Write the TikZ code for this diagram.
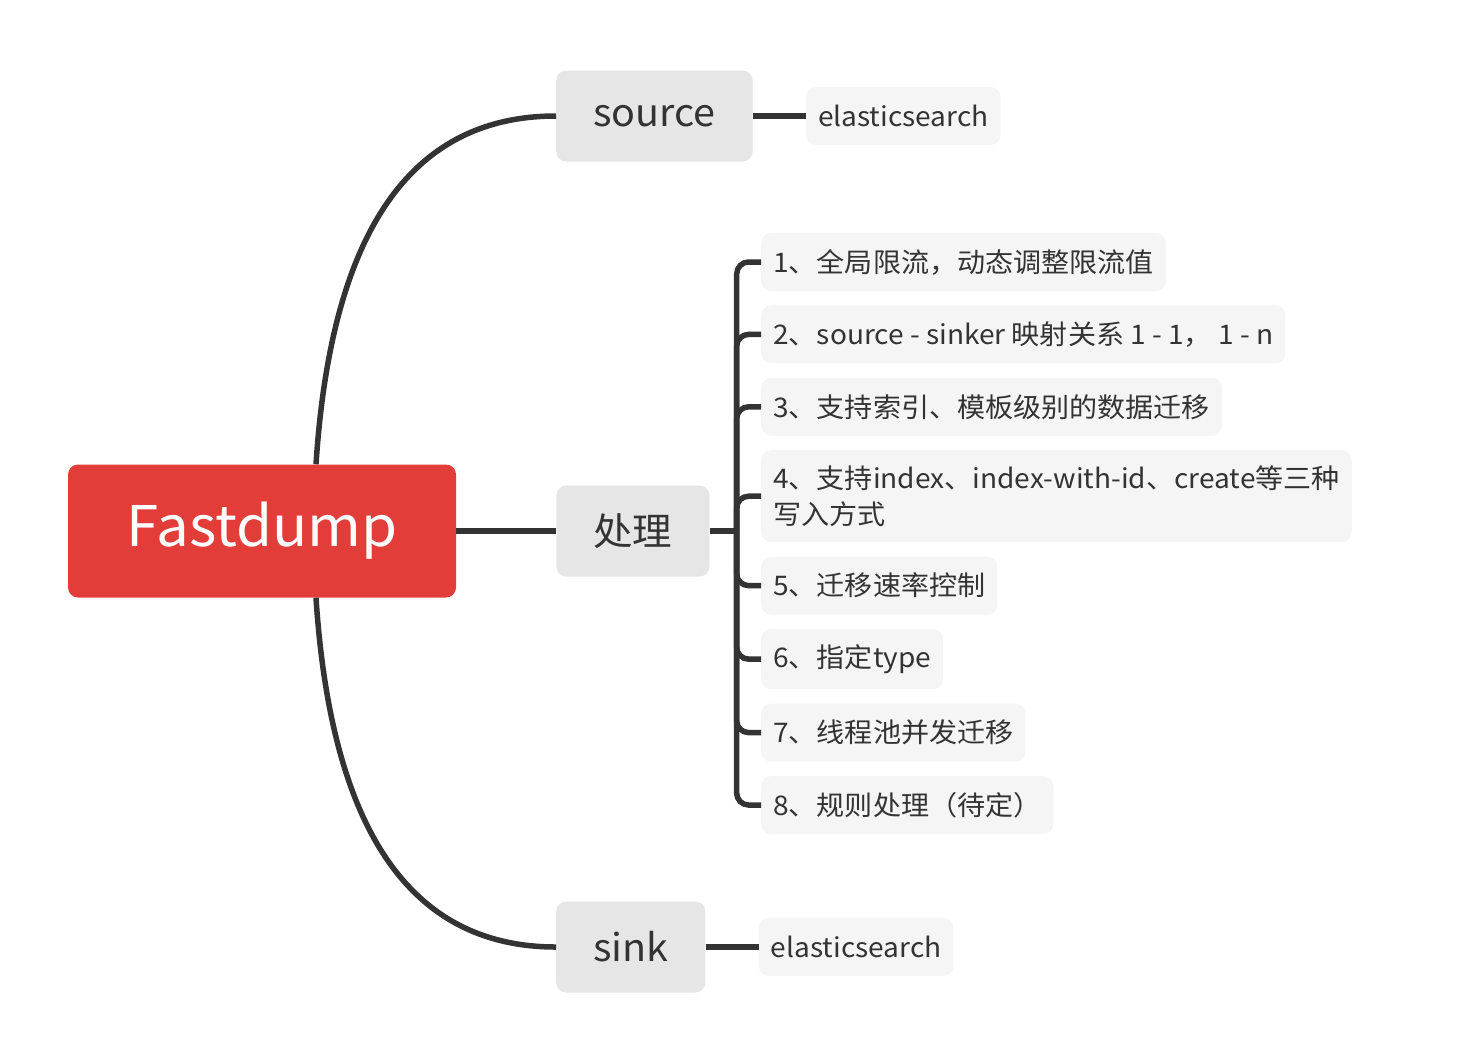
\documentclass[tikz,border=0pt]{standalone}
\usepackage{fontspec}
\setmainfont{Noto Sans CJK SC}[FakeStretch=1.04]
\usepackage{xcolor}
\usepackage{tikz}
\usetikzlibrary{positioning}
\definecolor{rootred}{HTML}{E33D3A}
\definecolor{topicgray}{HTML}{E6E6E6}
\definecolor{leafgray}{HTML}{F5F5F5}
\definecolor{linegray}{HTML}{333333}
\tikzstyle{root}   = [rectangle, rounded corners=10pt, fill=rootred, text=white, minimum width=388pt, minimum height=133pt, font=\fontsize{56}{68}\selectfont]
\tikzstyle{topic}  = [rectangle, rounded corners=10pt, fill=topicgray, text=linegray, inner xsep=37pt, minimum height=91pt, font=\fontsize{38}{46}\selectfont]
\tikzstyle{leaf}   = [rectangle, rounded corners=10pt, fill=leafgray, text=linegray, inner xsep=12pt, inner ysep=15.5pt, minimum height=58pt, align=left, font=\fontsize{27}{36}\selectfont]
\tikzstyle{branch} = [draw=linegray, line width=5.5pt]

\begin{document}
\begin{tikzpicture}[x=1pt, y=-1pt]
    \useasboundingbox (0,0) rectangle (1474,1058);
    \node (fast) [root] at (262,531) {Fastdump};
    \node (proc) [topic, right=100pt of fast] {处理};
    \node (src) [topic, anchor=west] at (556,116) {source};
    \node (sink) [topic, anchor=west] at (556,947) {sink};
    \node (srcout) [leaf, right=53pt of src] {elasticsearch};
    \node (sinkout) [leaf, right=53pt of sink] {elasticsearch};
    \coordinate [right=27pt of proc] (fork);

    \node (i1) [leaf, anchor=west] at (761,262) {1、全局限流，动态调整限流值};
    \node (i2) [leaf, below=14pt of i1.south west, anchor=north west] {2、source - sinker 映射关系 1 - 1， 1 - n};
    \node (i3) [leaf, below=14pt of i2.south west, anchor=north west] {3、支持索引、模板级别的数据迁移};
    \node (i4) [leaf, below=14pt of i3.south west, anchor=north west] {4、支持index、index-with-id、create等三种\\写入方式};
    \node (i5) [leaf, below=14pt of i4.south west, anchor=north west] {5、迁移速率控制};
    \node (i6) [leaf, below=14pt of i5.south west, anchor=north west] {6、指定type};
    \node (i7) [leaf, below=14pt of i6.south west, anchor=north west] {7、线程池并发迁移};
    \node (i8) [leaf, below=14pt of i7.south west, anchor=north west] {8、规则处理（待定）};

    \draw [branch] ([xshift=54pt]fast.north) .. controls +(14,-215) and +(-156,0) .. (src.west);
    \draw [branch] ([xshift=54pt]fast.south) .. controls +(14,215) and +(-156,0) .. (sink.west);
    \draw [branch] (fast) -- (proc);
    \draw [branch] (src) -- (srcout);
    \draw [branch] (sink) -- (sinkout);
    \draw [branch] (proc) -- (fork);
    \foreach \i in {1,...,8}
        \draw [branch, rounded corners=12pt] (fork) |- (i\i.west);
  \end{tikzpicture}
\end{document}
